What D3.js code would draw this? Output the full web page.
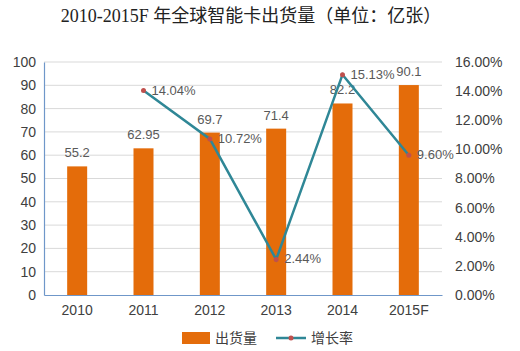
<!DOCTYPE html>
<html>
<head>
<meta charset="utf-8">
<script src="https://cdn.jsdelivr.net/npm/d3@7"></script>
<style>
  body { margin: 0; background: #fff; }
</style>
</head>
<body>
<div id="chart"></div>
<script>
// data
const years = ["2010", "2011", "2012", "2013", "2014", "2015F"];
const shipments = [55.2, 62.95, 69.7, 71.4, 82.2, 90.1];
const growth = [null, 14.04, 10.72, 2.44, 15.13, 9.60];
const leftTicks = [0, 10, 20, 30, 40, 50, 60, 70, 80, 90, 100];
const rightTicks = [0, 2, 4, 6, 8, 10, 12, 14, 16];

const W = 520, H = 351;
const margin = {top: 62, right: 78, bottom: 56, left: 44};
const width = W - margin.left - margin.right;
const height = H - margin.top - margin.bottom;

const svg = d3.select("#chart").append("svg")
  .attr("width", W).attr("height", H);

// title
svg.append("text")
  .attr("x", 251).attr("y", 22)
  .attr("text-anchor", "middle")
  .attr("font-family", "'Liberation Serif', 'Noto Sans CJK SC', serif")
  .attr("font-size", "18px")
  .attr("fill", "#222")
  .text("2010-2015F 年全球智能卡出货量（单位：亿张）");

const g = svg.append("g")
  .attr("transform", `translate(${margin.left}, ${margin.top})`);

const x = d3.scaleBand().domain(years).range([0, width]);
const y = d3.scaleLinear().domain([0, 100]).range([height, 0]);
const y2 = d3.scaleLinear().domain([0, 16]).range([height, 0]);

// gridlines
g.selectAll(".grid").data(leftTicks.slice(1)).join("line")
  .attr("x1", 0).attr("x2", width)
  .attr("y1", d => y(d)).attr("y2", d => y(d))
  .attr("stroke", "#d9d9d9").attr("stroke-width", 1);

// left axis
const yAxis = g.append("g").call(d3.axisLeft(y).tickValues(leftTicks).tickSize(0).tickPadding(8));
yAxis.select(".domain").attr("stroke", "#6f97c9").attr("stroke-width", 1.2);
yAxis.selectAll("text").attr("font-family", "'Liberation Sans', Arial, sans-serif")
  .attr("font-size", "14px").attr("fill", "#404040");

// right axis
const y2Axis = g.append("g").attr("transform", `translate(${width}, 0)`)
  .call(d3.axisRight(y2).tickValues(rightTicks).tickSize(0).tickPadding(13)
    .tickFormat(d => d.toFixed(2) + "%"));
y2Axis.select(".domain").remove();
y2Axis.selectAll("text").attr("font-family", "'Liberation Sans', Arial, sans-serif")
  .attr("font-size", "14px").attr("fill", "#404040");

// bars
const barW = 20;
g.selectAll(".bar").data(shipments).join("rect")
  .attr("x", (d, i) => x(years[i]) + x.bandwidth() / 2 - barW / 2)
  .attr("y", d => y(d))
  .attr("width", barW)
  .attr("height", d => height - y(d))
  .attr("fill", "#e46c0a");

// bottom axis
const xAxis = g.append("g").attr("transform", `translate(0, ${height})`)
  .call(d3.axisBottom(x).tickSize(0).tickPadding(10));
xAxis.select(".domain").attr("stroke", "#6f97c9").attr("stroke-width", 1.2);
xAxis.selectAll("text").attr("font-family", "'Liberation Sans', Arial, sans-serif")
  .attr("font-size", "14px").attr("fill", "#404040");

// bar labels
g.selectAll(".blabel").data(shipments).join("text")
  .attr("x", (d, i) => x(years[i]) + x.bandwidth() / 2)
  .attr("y", d => y(d) - 9)
  .attr("text-anchor", "middle")
  .attr("font-family", "'Liberation Sans', Arial, sans-serif")
  .attr("font-size", "13px").attr("fill", "#595959")
  .text(d => d);

// growth line
const pts = growth.map((d, i) => ({year: years[i], v: d})).filter(d => d.v !== null);
g.append("path").datum(pts)
  .attr("fill", "none").attr("stroke", "#2f8796").attr("stroke-width", 2.5)
  .attr("d", d3.line().x(d => x(d.year) + x.bandwidth() / 2).y(d => y2(d.v)));
g.selectAll(".dot").data(pts).join("circle")
  .attr("cx", d => x(d.year) + x.bandwidth() / 2)
  .attr("cy", d => y2(d.v))
  .attr("r", 2.5).attr("fill", "#c0504d");
g.selectAll(".glabel").data(pts).join("text")
  .attr("x", d => x(d.year) + x.bandwidth() / 2 + 8)
  .attr("y", d => y2(d.v) + 4)
  .attr("font-family", "'Liberation Sans', Arial, sans-serif")
  .attr("font-size", "13px").attr("fill", "#595959")
  .text(d => d.v.toFixed(2) + "%");

// legend
const lg = svg.append("g").attr("transform", "translate(0, 338)");
lg.append("rect").attr("x", 182).attr("y", -6).attr("width", 28).attr("height", 12).attr("fill", "#e46c0a");
lg.append("text").attr("x", 215).attr("y", 5)
  .attr("font-family", "'Noto Sans CJK SC', sans-serif").attr("font-size", "14px").attr("fill", "#404040")
  .text("出货量");
lg.append("line").attr("x1", 276).attr("x2", 306).attr("y1", 0).attr("y2", 0)
  .attr("stroke", "#2f8796").attr("stroke-width", 2.5);
lg.append("circle").attr("cx", 291).attr("cy", 0).attr("r", 2.5).attr("fill", "#c0504d");
lg.append("text").attr("x", 311).attr("y", 5)
  .attr("font-family", "'Noto Sans CJK SC', sans-serif").attr("font-size", "14px").attr("fill", "#404040")
  .text("增长率");
</script>
</body>
</html>
